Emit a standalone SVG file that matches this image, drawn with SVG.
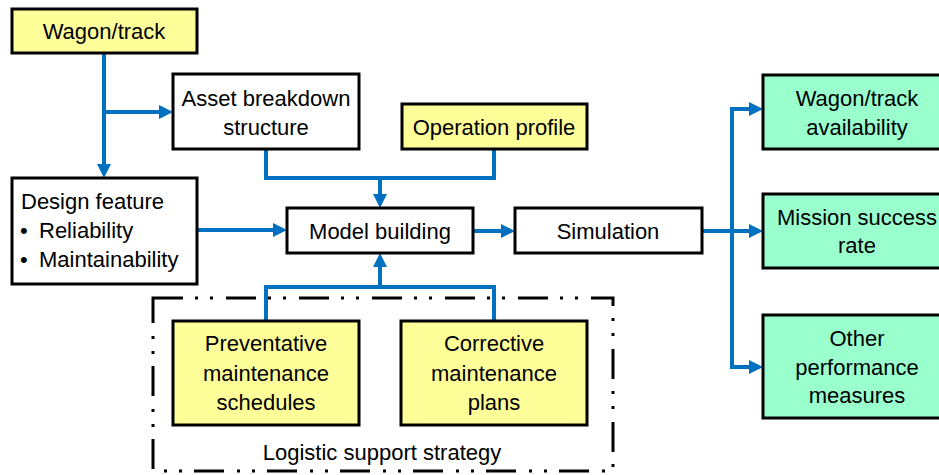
<svg xmlns="http://www.w3.org/2000/svg" width="939" height="475" viewBox="0 0 939 475">
<style>
.box{stroke:#000;stroke-width:3;}
.w{fill:#fff;}
.y{fill:#FFFF99;}
.g{fill:#99FFCC;}
text{font-family:"Liberation Sans",Arial,sans-serif;font-size:22px;fill:#000;}
.c{text-anchor:middle;}
.con{fill:none;stroke:#0070C0;stroke-width:4;}
.arr{marker-end:url(#ah);}
</style>
<defs>
<marker id="ah" markerUnits="userSpaceOnUse" markerWidth="14" markerHeight="14" refX="4" refY="7" orient="auto">
<path d="M0,0 L14,7 L0,14 z" fill="#0070C0"/>
</marker>
</defs>
<rect width="939" height="475" fill="#fff"/>

<g id="connectors">
<path class="con arr" d="M104 53 V168"/>
<path class="con arr" d="M104 112 H163"/>
<path class="con" d="M266 149 V178 H494 V149"/>
<path class="con arr" d="M380 178 V198"/>
<path class="con arr" d="M197 230 H277"/>
<path class="con arr" d="M473 231 H505"/>
<path class="con arr" d="M702 231 H753"/>
<path class="con arr" d="M732 231 V109 H753"/>
<path class="con arr" d="M732 231 V367 H753"/>
<path class="con" d="M266 321 V287 H494 V321"/>
<path class="con arr" d="M380 287 V263"/>
</g>

<g id="logistic-support-strategy">
<rect x="153" y="298" width="460" height="173" fill="none" stroke="#000" stroke-width="3" stroke-dasharray="30 12 3 12 3 13"/>
<text class="c" x="382" y="460">Logistic support strategy</text>
</g>

<g id="wagon-track">
<rect class="box y" x="12" y="9" width="185" height="44"/>
<text class="c" x="104" y="39">Wagon/track</text>
</g>

<g id="asset-breakdown">
<rect class="box w" x="173" y="74" width="186" height="75"/>
<text class="c" x="266" y="106">Asset breakdown</text>
<text class="c" x="266" y="135">structure</text>
</g>

<g id="operation-profile">
<rect class="box y" x="402" y="104" width="185" height="45"/>
<text class="c" x="494" y="135">Operation profile</text>
</g>

<g id="design-feature">
<rect class="box w" x="12" y="178" width="185" height="106"/>
<text x="21" y="209">Design feature</text>
<text x="20" y="238">•</text>
<text x="39" y="238">Reliability</text>
<text x="20" y="267">•</text>
<text x="39" y="267">Maintainability</text>
</g>

<g id="model-building">
<rect class="box w" x="287" y="208" width="186" height="45"/>
<text class="c" x="380" y="239">Model building</text>
</g>

<g id="simulation">
<rect class="box w" x="515" y="208" width="187" height="45"/>
<text class="c" x="608" y="239">Simulation</text>
</g>

<g id="wagon-track-availability">
<rect class="box g" x="763" y="75" width="190" height="74"/>
<text class="c" x="857" y="106">Wagon/track</text>
<text class="c" x="857" y="135">availability</text>
</g>

<g id="mission-success-rate">
<rect class="box g" x="763" y="194" width="190" height="74"/>
<text class="c" x="857" y="225">Mission success</text>
<text class="c" x="857" y="253">rate</text>
</g>

<g id="other-performance">
<rect class="box g" x="763" y="315" width="190" height="103"/>
<text class="c" x="857" y="346">Other</text>
<text class="c" x="857" y="375">performance</text>
<text class="c" x="857" y="403">measures</text>
</g>

<g id="preventative">
<rect class="box y" x="173" y="321" width="186" height="104"/>
<text class="c" x="266" y="351">Preventative</text>
<text class="c" x="266" y="381">maintenance</text>
<text class="c" x="266" y="410">schedules</text>
</g>

<g id="corrective">
<rect class="box y" x="401" y="321" width="186" height="104"/>
<text class="c" x="494" y="351">Corrective</text>
<text class="c" x="494" y="381">maintenance</text>
<text class="c" x="494" y="410">plans</text>
</g>
</svg>
